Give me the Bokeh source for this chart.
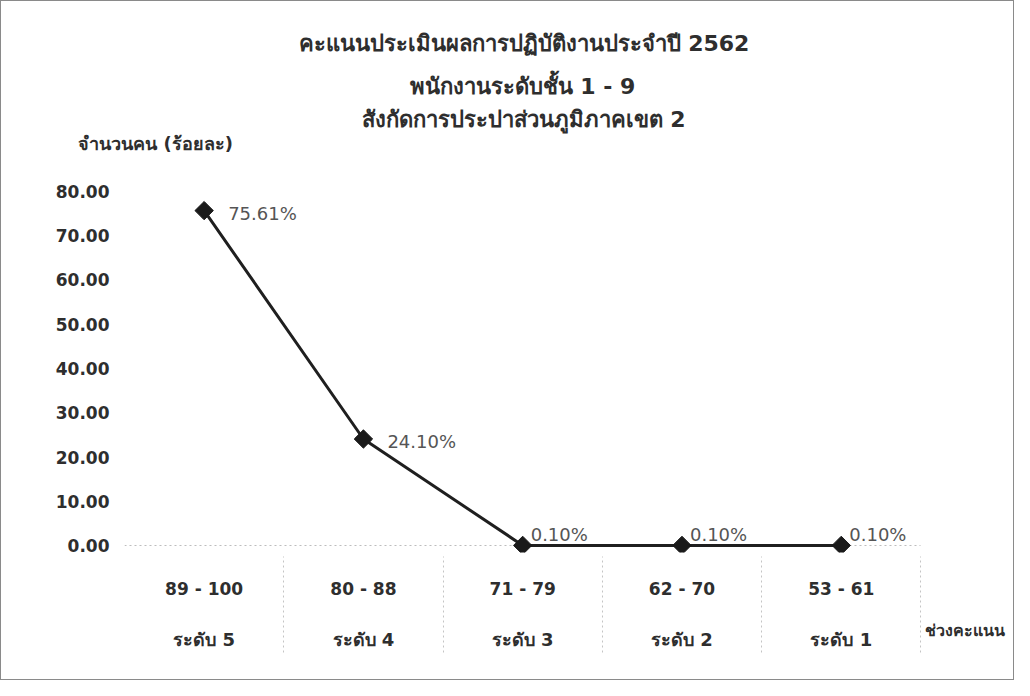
from bokeh.plotting import figure
from bokeh.models import (LinearAxis, FixedTicker, Range1d, Title, ColumnDataSource,
                          NumeralTickFormatter, Grid)
from bokeh.core.properties import value
from bokeh.embed import file_html
from bokeh.resources import INLINE

title_lines = ["คะแนนประเมินผลการปฏิบัติงานประจำปี 2562",
               "พนักงานระดับชั้น 1 - 9",
               "สังกัดการประปาส่วนภูมิภาคเขต 2"]
y_title = "จำนวนคน (ร้อยละ)"
x_title = "ช่วงคะแนน"
score_ranges = ["89 - 100", "80 - 88", "71 - 79", "62 - 70", "53 - 61"]
levels = ["ระดับ 5", "ระดับ 4", "ระดับ 3", "ระดับ 2", "ระดับ 1"]
percent = [75.61, 24.10, 0.10, 0.10, 0.10]
y_ticks = [0, 10, 20, 30, 40, 50, 60, 70, 80]

FONT = "DejaVu Sans"
TXT = "#2e2e2e"

n = len(percent)
xs = list(range(1, n + 1))
src = ColumnDataSource(dict(x=xs, y=percent, lab=[f"{v:.2f}%" for v in percent],
                            xoff=[24 if v > 5 else 8 for v in percent],
                            yoff=[3 if v > 5 else -11 for v in percent]))

p = figure(width=1014, height=680, output_backend="svg", toolbar_location=None,
           x_range=Range1d(0.5, n + 1.05), y_range=Range1d(-1.5, 81.5),
           min_border_left=123, min_border_right=7, min_border_top=183, min_border_bottom=129,
           background_fill_color="white", border_fill_color="white",
           styles={"border": "1px solid #8a8a8a"})
p.outline_line_color = None
p.xaxis.visible = False


def style_axis(ax, standoff, size):
    ax.axis_line_color = None
    ax.major_tick_line_color = None
    ax.major_tick_in = 0
    ax.major_tick_out = 0
    ax.minor_tick_line_color = None
    ax.major_label_standoff = standoff
    ax.major_label_text_font = FONT
    ax.major_label_text_font_style = "bold"
    ax.major_label_text_font_size = size
    ax.major_label_text_color = TXT


# y axis
ya = p.yaxis[0]
ya.ticker = FixedTicker(ticks=y_ticks)
ya.formatter = NumeralTickFormatter(format="0.00")
style_axis(ya, 15, "17px")

p.xgrid.visible = False
p.ygrid.ticker = FixedTicker(ticks=[y_ticks[0]])
p.ygrid.grid_line_color = "#bdbdbd"
p.ygrid.grid_line_dash = "2 3"
if "cross_bounds" in Grid.properties():
    p.ygrid.cross_bounds = (0.5, n + 0.5)

# x axes below: score ranges, levels, axis title (+ separators as minor ticks)
ax1 = LinearAxis(ticker=FixedTicker(ticks=xs),
                 major_label_overrides={i + 1: s for i, s in enumerate(score_ranges)})
style_axis(ax1, 26, "17px")
ax2 = LinearAxis(ticker=FixedTicker(ticks=xs),
                 major_label_overrides={i + 1: s for i, s in enumerate(levels)})
style_axis(ax2, 27, "18px")
xt_pos = n + 0.78
ax3 = LinearAxis(ticker=FixedTicker(ticks=[xt_pos], minor_ticks=[x + 0.5 for x in xs]),
                 major_label_overrides={xt_pos: x_title})
style_axis(ax3, -32, "16px")
ax3.minor_tick_in = 96
ax3.minor_tick_out = 0
ax3.minor_tick_line_color = "#c4c4c4"
ax3.minor_tick_line_dash = "2 3"
for ax in (ax1, ax2, ax3):
    p.add_layout(ax, "below")

# y-axis title as the label of an axis above the frame
yt_pos = 0.695
axt = LinearAxis(ticker=FixedTicker(ticks=[yt_pos]), major_label_overrides={yt_pos: y_title})
style_axis(axt, 31, "18px")
p.add_layout(axt, "above")

# line + markers
p.line("x", "y", source=src, line_color="#1f1f1f", line_width=3)
p.scatter("x", "y", source=src, marker="square", angle=0.785, size=13,
          fill_color="#1a1a1a", line_color="#1a1a1a")
p.text("x", "y", text="lab", source=src, x_offset="xoff", y_offset="yoff",
       text_font=value(FONT), text_font_size="18px", text_color="#555555",
       text_baseline="middle", text_align="left")

# chart titles (added nearest-first), left-aligned with offsets to centre them
for t, so, off in zip(reversed(title_lines), (-4, 16, 16), (237, 285, 174)):
    p.add_layout(Title(text=t, align="left", offset=off, standoff=so,
                       text_font=FONT, text_font_style="bold", text_font_size="22px",
                       text_color=TXT), "above")

open("out.html", "w").write(file_html(p, INLINE))
